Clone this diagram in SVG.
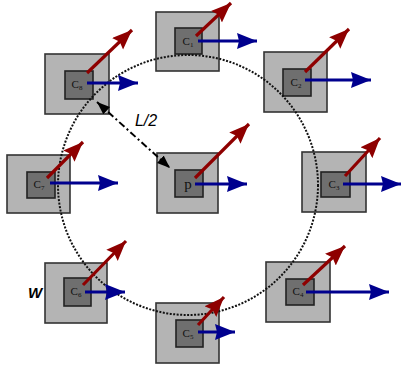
<svg xmlns="http://www.w3.org/2000/svg" width="403" height="367" viewBox="0 0 403 367">
<style>
.o{fill:#b4b4b4;stroke:#333;stroke-width:1.6}
.i{fill:#6f6f6f;stroke:#222;stroke-width:1.6}
.t{font-family:"Liberation Serif",serif;font-size:11px;fill:#111;text-anchor:middle}
.s{font-size:7px}
.r{stroke:#8e0000;stroke-width:3.2;fill:none;marker-end:url(#hr)}
.b{stroke:#00008e;stroke-width:3.2;fill:none;marker-end:url(#hb)}
</style>
<defs>
<marker id="hr" markerUnits="userSpaceOnUse" markerWidth="22" markerHeight="18" refX="20" refY="8" orient="auto"><path d="M0,0 L20,8 L0,16 L3,8 z" fill="#8e0000"/></marker>
<marker id="hb" markerUnits="userSpaceOnUse" markerWidth="22" markerHeight="18" refX="20" refY="8" orient="auto"><path d="M0,0 L20,8 L0,16 L2,8 z" fill="#00008e"/></marker>
<marker id="hk" markerUnits="userSpaceOnUse" markerWidth="14" markerHeight="12" refX="13" refY="5" orient="auto-start-reverse"><path d="M0,0 L13,5 L0,10 z" fill="#000"/></marker>
</defs>
<g id="C1"><rect class="o" x="156" y="12" width="63" height="59"/><rect class="i" x="175" y="28" width="27" height="26"/><text class="t" x="188" y="45">C<tspan class="s" dy="2">1</tspan></text></g>
<g id="C2"><rect class="o" x="264" y="52" width="63" height="60"/><rect class="i" x="283" y="69" width="28" height="27"/><text class="t" x="296" y="86">C<tspan class="s" dy="2">2</tspan></text></g>
<g id="C3"><rect class="o" x="302" y="152" width="64" height="60"/><rect class="i" x="321" y="172" width="29" height="25"/><text class="t" x="334" y="188">C<tspan class="s" dy="2">3</tspan></text></g>
<g id="C4"><rect class="o" x="266" y="262" width="64" height="60"/><rect class="i" x="286" y="279" width="28" height="26"/><text class="t" x="298" y="295">C<tspan class="s" dy="2">4</tspan></text></g>
<g id="C5"><rect class="o" x="156" y="303" width="63" height="60"/><rect class="i" x="176" y="320" width="27" height="27"/><text class="t" x="188" y="337">C<tspan class="s" dy="2">5</tspan></text></g>
<g id="C6"><rect class="o" x="45" y="263" width="62" height="60"/><rect class="i" x="64" y="278" width="27" height="28"/><text class="t" x="76" y="295">C<tspan class="s" dy="2">6</tspan></text></g>
<g id="C7"><rect class="o" x="7" y="155" width="63" height="58"/><rect class="i" x="27" y="172" width="28" height="26"/><text class="t" x="39" y="188">C<tspan class="s" dy="2">7</tspan></text></g>
<g id="C8"><rect class="o" x="45" y="54" width="64" height="60"/><rect class="i" x="65" y="71" width="28" height="28"/><text class="t" x="77" y="88">C<tspan class="s" dy="2">8</tspan></text></g>
<g id="p"><rect class="o" x="157" y="153" width="61" height="60"/><rect class="i" x="175" y="170" width="28" height="27"/><text class="t" x="188" y="189" style="font-size:15px">p</text></g>
<g id="connectors">
<circle cx="188" cy="185" r="130" fill="none" stroke="#111" stroke-width="2" stroke-dasharray="2 1.5"/>
<line x1="97" y1="102" x2="170" y2="168" stroke="#000" stroke-width="2" stroke-dasharray="7 3 2 3" marker-start="url(#hk)" marker-end="url(#hk)"/>
</g>
<g id="vectors">
<line class="r" x1="196" y1="36" x2="231" y2="3"/><line class="b" x1="198" y1="41" x2="257" y2="41"/>
<line class="r" x1="305" y1="72" x2="349" y2="29"/><line class="b" x1="305" y1="80" x2="371" y2="80"/>
<line class="r" x1="345" y1="176" x2="380" y2="138"/><line class="b" x1="343" y1="184" x2="401" y2="184"/>
<line class="r" x1="303" y1="285" x2="345" y2="246"/><line class="b" x1="306" y1="292" x2="389" y2="292"/>
<line class="r" x1="198" y1="325" x2="224" y2="297"/><line class="b" x1="198" y1="332" x2="235" y2="332"/>
<line class="r" x1="83" y1="285" x2="126" y2="241"/><line class="b" x1="85" y1="292" x2="125" y2="292"/>
<line class="r" x1="47" y1="178" x2="83" y2="142"/><line class="b" x1="50" y1="183" x2="118" y2="183"/>
<line class="r" x1="87" y1="73" x2="132" y2="30"/><line class="b" x1="87" y1="83" x2="138" y2="83"/>
<line class="r" x1="195" y1="178" x2="249" y2="124"/><line class="b" x1="195" y1="184" x2="247" y2="184"/>
</g>
<text x="146" y="126" font-family="Liberation Sans,Arial,sans-serif" font-size="16" font-style="italic" text-anchor="middle" fill="#000">L/2</text>
<text x="35" y="298" font-family="Liberation Sans,Arial,sans-serif" font-size="15" font-style="italic" font-weight="bold" text-anchor="middle" fill="#000">W</text>
</svg>
